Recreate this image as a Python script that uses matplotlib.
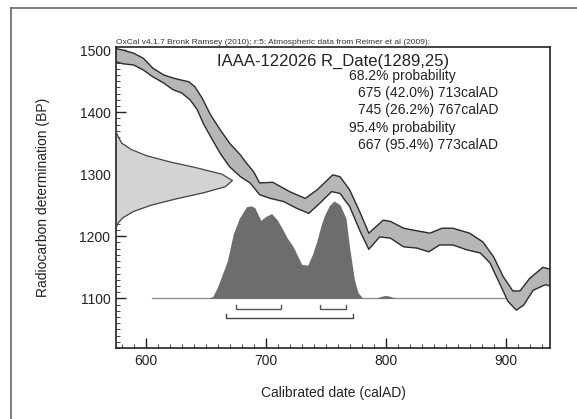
import matplotlib
matplotlib.use("Agg")
import matplotlib.pyplot as plt
from matplotlib.lines import Line2D
from matplotlib.ticker import MultipleLocator

plt.rcParams['font.family'] = ['Liberation Sans', 'DejaVu Sans']

# calibration curve (IntCal09 band), upper and lower edges
cal_upper_yr = [574, 581, 590, 598, 606, 615, 623, 629, 636, 641, 647, 654, 662, 670, 679, 684, 690, 695, 706, 720,
                733, 743, 756, 762, 770, 779, 786, 798, 804, 815, 823, 837, 847, 856, 870, 881, 890, 898, 906, 912,
                920, 931, 937]
cal_upper_bp = [1503, 1500, 1495, 1487, 1471, 1460, 1455, 1452, 1449, 1441, 1423, 1396, 1372, 1350, 1331, 1318, 1304,
                1286, 1287, 1272, 1261, 1275, 1299, 1296, 1275, 1237, 1205, 1226, 1224, 1213, 1210, 1205, 1213, 1213,
                1205, 1191, 1167, 1135, 1112, 1112, 1132, 1150, 1147]
cal_lower_yr = [574, 581, 590, 598, 606, 615, 623, 630, 637, 643, 648, 654, 662, 670, 679, 687, 695, 704, 715, 726,
                736, 745, 755, 762, 770, 779, 786, 795, 804, 815, 826, 836, 845, 856, 868, 879, 887, 895, 902, 909,
                915, 923, 933, 937]
cal_lower_bp = [1482, 1478, 1476, 1468, 1457, 1447, 1436, 1431, 1420, 1404, 1382, 1361, 1334, 1312, 1296, 1286, 1267,
                1261, 1256, 1245, 1237, 1253, 1272, 1269, 1248, 1207, 1179, 1199, 1197, 1183, 1181, 1175, 1186, 1186,
                1178, 1173, 1157, 1124, 1095, 1081, 1089, 1113, 1122, 1120]

# radiocarbon measurement R_Date(1289,25), relative density
gauss_bp = [1372, 1366, 1360, 1350, 1340, 1330, 1320, 1310, 1300, 1290, 1280, 1270, 1260, 1250, 1240, 1230, 1222, 1214]
gauss_w = [0, 0.005, 0.02, 0.05, 0.13, 0.26, 0.46, 0.70, 0.91, 1.0, 0.94, 0.75, 0.51, 0.30, 0.15, 0.06, 0.02, 0]

# calibrated date distribution, relative probability
dist_yr = [652, 656, 660, 664, 668, 673, 678, 684, 688, 691, 696, 700, 705, 710, 715, 718, 723, 730, 735, 739,
           743, 746, 749, 753, 757, 762, 767, 770, 774, 777, 781, 792, 796, 800, 804, 809]
dist_p = [0, 0.02, 0.12, 0.25, 0.38, 0.66, 0.82, 0.94, 0.95, 0.93, 0.80, 0.84, 0.87, 0.80, 0.69, 0.62, 0.53, 0.35,
          0.34, 0.45, 0.60, 0.74, 0.85, 0.95, 1.0, 0.96, 0.82, 0.52, 0.19, 0.06, 0, 0, 0.02, 0.03, 0.02, 0]

# ranges
r68_start = [675, 745]
r68_end = [713, 767]
r95_start = [667]
r95_end = [773]

title = "IAAA-122026 R_Date(1289,25)"
header = "OxCal v4.1.7 Bronk Ramsey (2010); r:5: Atmospheric data from Reimer et al (2009);"
result_lines = ["68.2% probability", "675 (42.0%) 713calAD", "745 (26.2%) 767calAD",
                "95.4% probability", "667 (95.4%) 773calAD"]

xmin, xmax = 575.3, 937
ymin, ymax = 1020, 1505
base = 1100

fig = plt.figure(figsize=(5.77, 4.19), dpi=100)
ax = fig.add_axes([116 / 577, 1 - 348 / 419, 434 / 577, 301 / 419])

# calibration band
ax.fill(cal_upper_yr + cal_lower_yr[::-1], cal_upper_bp + cal_lower_bp[::-1],
        color='#b6b6b6', lw=0, zorder=2)
ax.plot(cal_upper_yr, cal_upper_bp, color='#2b2b2b', lw=1.0, zorder=3)
ax.plot(cal_lower_yr, cal_lower_bp, color='#2b2b2b', lw=1.0, zorder=3)

# measurement on y axis
gx = [xmin + w * 97 for w in gauss_w]
ax.fill_betweenx(gauss_bp, xmin, gx, color='#d3d3d3', lw=0, zorder=2)
ax.plot(gx, gauss_bp, color='#444444', lw=0.9, zorder=3)

# calibrated distribution
ax.plot([605, 906], [base, base], color='#8a8a8a', lw=0.9, zorder=1)
ax.fill_between(dist_yr, base, [base + p * 157 for p in dist_p], color='#6d6d70', lw=0, zorder=4)

# range brackets
for s, e in zip(r68_start, r68_end):
    ax.plot([s, s, e, e], [1088.5, 1082.5, 1082.5, 1088.5], color='#555555', lw=1.0, zorder=4)
for s, e in zip(r95_start, r95_end):
    ax.plot([s, s, e, e], [1074, 1068, 1068, 1074], color='#444444', lw=1.0, zorder=4)

ax.set_xlim(xmin, xmax)
ax.set_ylim(ymin, ymax)
ax.xaxis.set_major_locator(MultipleLocator(100))
ax.xaxis.set_minor_locator(MultipleLocator(10))
ax.yaxis.set_major_locator(MultipleLocator(100))
ax.yaxis.set_minor_locator(MultipleLocator(10))
ax.tick_params(which='major', direction='in', length=7, width=1.0, labelsize=10, pad=4, colors='#222222')
ax.tick_params(which='minor', direction='in', length=3, width=0.7, colors='#444444')
for sp in ax.spines.values():
    sp.set_linewidth(1.2)
    sp.set_color('#222222')

ax.set_xlabel("Calibrated date (calAD)", fontsize=10, color='#222222')
ax.set_ylabel("Radiocarbon determination (BP)", fontsize=10, color='#222222')
ax.xaxis.set_label_coords(0.5, -0.126)
ax.yaxis.set_label_coords(-0.152, 0.5)

ax.text(0.5, 0.953, title, transform=ax.transAxes, ha='center', va='center', fontsize=12, color='#222222')
ax.text(0.0, 1.004, header, transform=ax.transAxes, ha='left', va='bottom', fontsize=6.0, color='#333333')
row_y = [0.905, 0.846, 0.791, 0.730, 0.674]
for txt, yy in zip(result_lines, row_y):
    xx = 0.537 if 'probability' in txt else 0.558
    ax.text(xx, yy, txt, transform=ax.transAxes, ha='left', va='center', fontsize=10, color='#222222')

# outer page frame (left and top edges)
fig.add_artist(Line2D([11 / 577, 11 / 577], [0, 1 - 8 / 419], transform=fig.transFigure, color='#666666', lw=1.2))
fig.add_artist(Line2D([11 / 577, 1], [1 - 8 / 419, 1 - 8 / 419], transform=fig.transFigure, color='#666666', lw=1.2))

fig.savefig('out.png', dpi=100)
